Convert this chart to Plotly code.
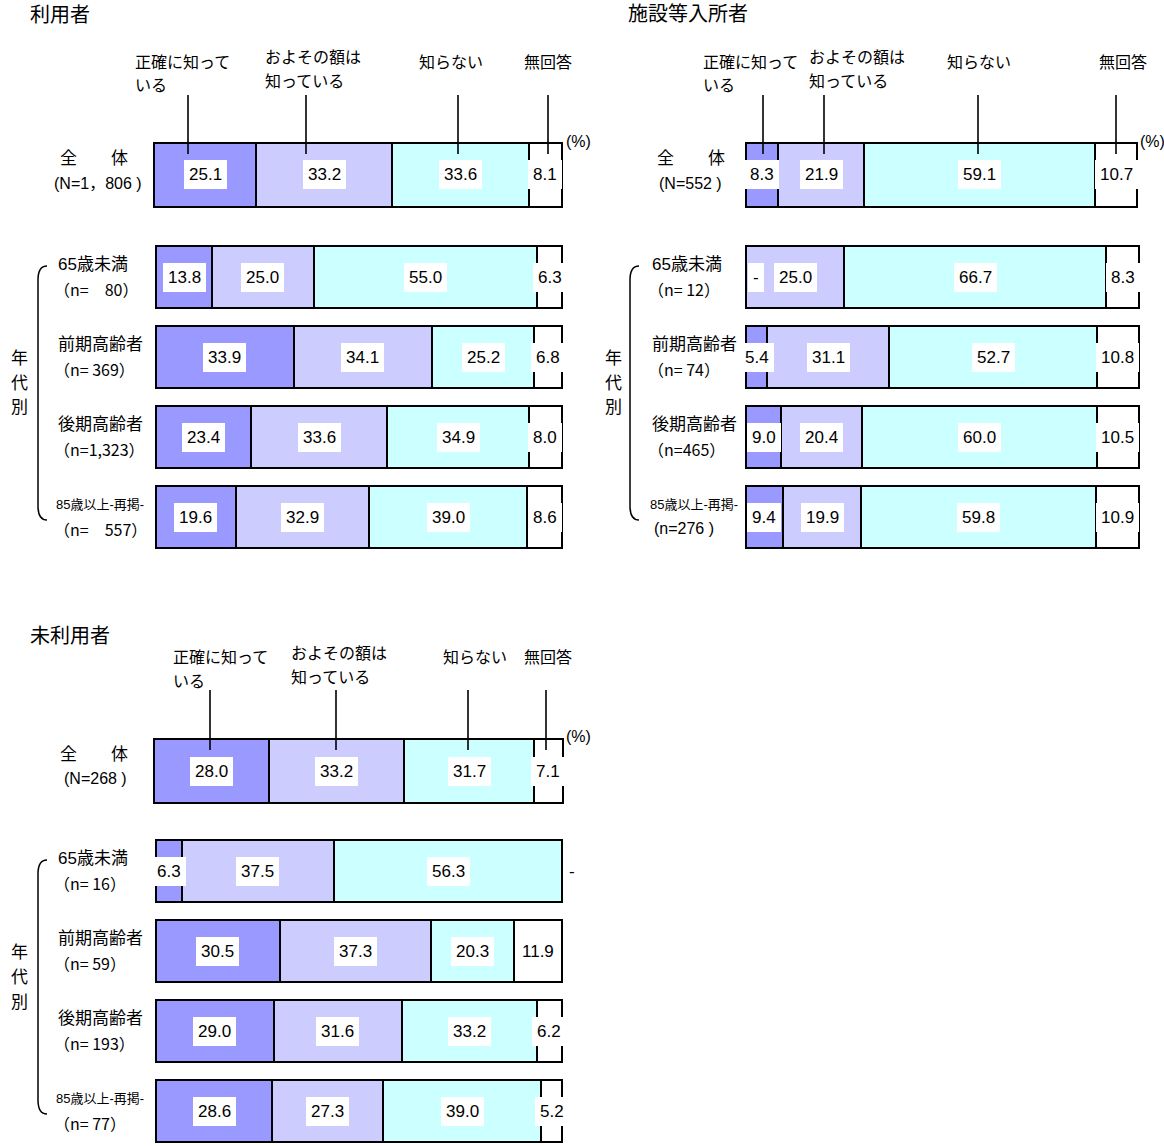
import plotly.graph_objects as go

W, H = 1164, 1146
NUM_FONT = "Liberation Sans, Arial, Noto Sans CJK JP, sans-serif"
JP_FONT = "Liberation Sans, Noto Sans CJK JP, sans-serif"
CJK_FONT = "Noto Sans CJK JP, sans-serif"

# ---- data -------------------------------------------------------------
CHOICES = [["正確に知って", "いる"], ["およその額は", "知っている"], ["知らない"], ["無回答"]]
COLORS = ["#9999FF", "#CCCCFF", "#CCFFFF", "#FFFFFF"]

GROUPS = ["全　　体", "65歳未満", "前期高齢者", "後期高齢者", "85歳以上-再掲-"]

USER_N = ["(N=1，806 )", "（n=　80）", "（n= 369）", "（n=1,323）", "（n=　557）"]
USER_EXACT = [25.1, 13.8, 33.9, 23.4, 19.6]
USER_ROUGH = [33.2, 25.0, 34.1, 33.6, 32.9]
USER_UNKNOWN = [33.6, 55.0, 25.2, 34.9, 39.0]
USER_NA = [8.1, 6.3, 6.8, 8.0, 8.6]

FAC_N = ["(N=552 )", "（n= 12）", "（n= 74）", "（n=465）", "(n=276 )"]
FAC_EXACT = [8.3, 0.0, 5.4, 9.0, 9.4]
FAC_ROUGH = [21.9, 25.0, 31.1, 20.4, 19.9]
FAC_UNKNOWN = [59.1, 66.7, 52.7, 60.0, 59.8]
FAC_NA = [10.7, 8.3, 10.8, 10.5, 10.9]

NON_N = ["(N=268 )", "（n= 16）", "（n= 59）", "（n= 193）", "（n= 77）"]
NON_EXACT = [28.0, 6.3, 30.5, 29.0, 28.6]
NON_ROUGH = [33.2, 37.5, 37.3, 31.6, 27.3]
NON_UNKNOWN = [31.7, 56.3, 20.3, 33.2, 39.0]
NON_NA = [7.1, 0.0, 11.9, 6.2, 5.2]

# ---- page layout (pixel positions of each panel) ------------------------
PANELS = [
    dict(title="利用者", title_xy=(28, 15),
         n_labels=USER_N, series=[USER_EXACT, USER_ROUGH, USER_UNKNOWN, USER_NA],
         total_x=(154, 562), age_x=(156, 562), total_c=175, age_c=277,
         header_y=62, header_x=[133, 263, 417, 522], header_dy=[0, -4, 0, 0],
         leaders=[188, 306, 458, 548], leader_y=(95, 154), pct_xy=(564, 141),
         label_x=56, total_name_x=58, total_n_x=52, brace_x=38, brace_top=266, kanji_x=19),
    dict(title="施設等入所者", title_xy=(626, 14),
         n_labels=FAC_N, series=[FAC_EXACT, FAC_ROUGH, FAC_UNKNOWN, FAC_NA],
         total_x=(746, 1137), age_x=(746, 1139), total_c=175, age_c=277,
         header_y=62, header_x=[701, 807, 945, 1097], header_dy=[0, -4, 0, 0],
         leaders=[763, 824, 978, 1116], leader_y=(95, 154), pct_xy=(1138, 141),
         label_x=650, total_name_x=655, total_n_x=657, brace_x=630, brace_top=266, kanji_x=613),
    dict(title="未利用者", title_xy=(28, 636),
         n_labels=NON_N, series=[NON_EXACT, NON_ROUGH, NON_UNKNOWN, NON_NA],
         total_x=(154, 563), age_x=(156, 562), total_c=771, age_c=871,
         header_y=657, header_x=[171, 289, 441, 522], header_dy=[0, -4, 0, 0],
         leaders=[210, 336, 468, 546], leader_y=(690, 750), pct_xy=(564, 736),
         label_x=56, total_name_x=58, total_n_x=62, brace_x=38, brace_top=860, kanji_x=19),
]

STEP = 80          # pixel distance between age rows
TOTAL_BAR = 64     # bar thickness, px
AGE_BAR = 62
PAD = 4            # extra room around the plot area so bar outlines are not clipped


def px(x):
    return x / W


def py(y):
    return 1 - y / H


fig = go.Figure()
annotations = []
shapes = []
axis_counter = [0]


def text(x, y, s, size, family=JP_FONT, xanchor="left", align="left", **kw):
    annotations.append(dict(x=px(x), y=py(y), xref="paper", yref="paper", text=s,
                            showarrow=False, xanchor=xanchor, yanchor="middle", align=align,
                            font=dict(size=size, family=family, color="black"), **kw))


def bar_block(series, rows, x_span, first_center, bar_px):
    axis_counter[0] += 1
    i = axis_counter[0]
    suffix = "" if i == 1 else str(i)
    n = len(rows)
    top = first_center - STEP / 2
    bot = min(first_center + (n - 1) * STEP + STEP / 2, H)
    r_top = -(first_center - top) / STEP
    r_bot = r_top + (bot - top) / STEP
    span = x_span[1] - x_span[0]
    pad_units = PAD * 100 / span
    fig.layout["xaxis" + suffix] = dict(domain=[px(x_span[0] - PAD), px(x_span[1] + PAD)],
                                        range=[-pad_units, 100 + pad_units],
                                        visible=False, fixedrange=True, anchor="y" + suffix)
    fig.layout["yaxis" + suffix] = dict(domain=[py(bot), py(top)], range=[r_bot, r_top],
                                        visible=False, fixedrange=True, anchor="x" + suffix)
    ypos = list(range(n))
    width = bar_px / STEP
    for k, vals in enumerate(series):
        fig.add_trace(go.Bar(
            x=[vals[r] for r in rows], y=ypos, orientation="h", width=width,
            xaxis="x" + suffix, yaxis="y" + suffix,
            marker=dict(color=COLORS[k], line=dict(color="black", width=2)),
            showlegend=False, hoverinfo="skip"))
    # value labels, centred on each segment
    for j, r in enumerate(rows):
        start = 0.0
        for k, vals in enumerate(series):
            v = vals[r]
            annotations.append(dict(
                x=start + v / 2, y=j, xref="x" + suffix, yref="y" + suffix,
                text=("-" if v == 0 else f"{v:.1f}"), showarrow=False,
                xshift=(10 if v == 0 else 0),
                bgcolor="white", borderpad=5, borderwidth=0,
                font=dict(size=17, family=NUM_FONT, color="black")))
            start += v


for p in PANELS:
    # bars
    bar_block(p["series"], [0], p["total_x"], p["total_c"], TOTAL_BAR)
    bar_block(p["series"], [1, 2, 3, 4], p["age_x"], p["age_c"], AGE_BAR)

    # panel title
    text(p["title_xy"][0], p["title_xy"][1], p["title"], 20)

    # category headers with leader lines
    for k, lines in enumerate(CHOICES):
        for li, line in enumerate(lines):
            text(p["header_x"][k], p["header_y"] + p["header_dy"][k] + 24 * li, line, 16)
    for lx in p["leaders"]:
        shapes.append(dict(type="line", xref="paper", yref="paper",
                           x0=px(lx), x1=px(lx), y0=py(p["leader_y"][0]), y1=py(p["leader_y"][1]),
                           line=dict(color="black", width=1.6), layer="above"))
    text(p["pct_xy"][0], p["pct_xy"][1], "(%)", 16, family=NUM_FONT)

    # row labels
    tc = p["total_c"]
    text(p["total_name_x"], tc - 17, GROUPS[0], 17)
    text(p["total_n_x"], tc + 8, p["n_labels"][0], 16)
    for j in range(4):
        c = p["age_c"] + j * STEP
        name = GROUPS[j + 1]
        small = j == 3
        text(p["label_x"] - (2 if small else 0), c - 12.5, name, 13 if small else 17)
        lab = p["n_labels"][j + 1]
        if lab.startswith("（"):
            text(p["label_x"] - 4, c + 11.5, lab, 16, family=CJK_FONT)
        else:
            text(p["label_x"] + 2, c + 11.5, lab, 16)

    # brace grouping the age rows
    bx, bt = p["brace_x"], p["brace_top"]
    bb = bt + 254
    pts = [(bx + 9, bt), (bx, bt + 14), (bx, bb - 14), (bx + 9, bb)]
    path = (f"M {px(pts[0][0])},{py(pts[0][1])} "
            f"Q {px(bx)},{py(bt)} {px(pts[1][0])},{py(pts[1][1])} "
            f"L {px(pts[2][0])},{py(pts[2][1])} "
            f"Q {px(bx)},{py(bb)} {px(pts[3][0])},{py(pts[3][1])}")
    shapes.append(dict(type="path", xref="paper", yref="paper", path=path,
                       line=dict(color="black", width=1.5)))
    for ci, ch in enumerate("年代別"):
        text(p["kanji_x"], bt + 92 + 25 * ci, ch, 17, xanchor="center")

fig.update_layout(
    width=W, height=H, margin=dict(l=0, r=0, t=0, b=0),
    paper_bgcolor="white", plot_bgcolor="white",
    barmode="stack", showlegend=False,
    annotations=annotations, shapes=shapes,
)

fig.write_html("out.html", config={"displayModeBar": False})
